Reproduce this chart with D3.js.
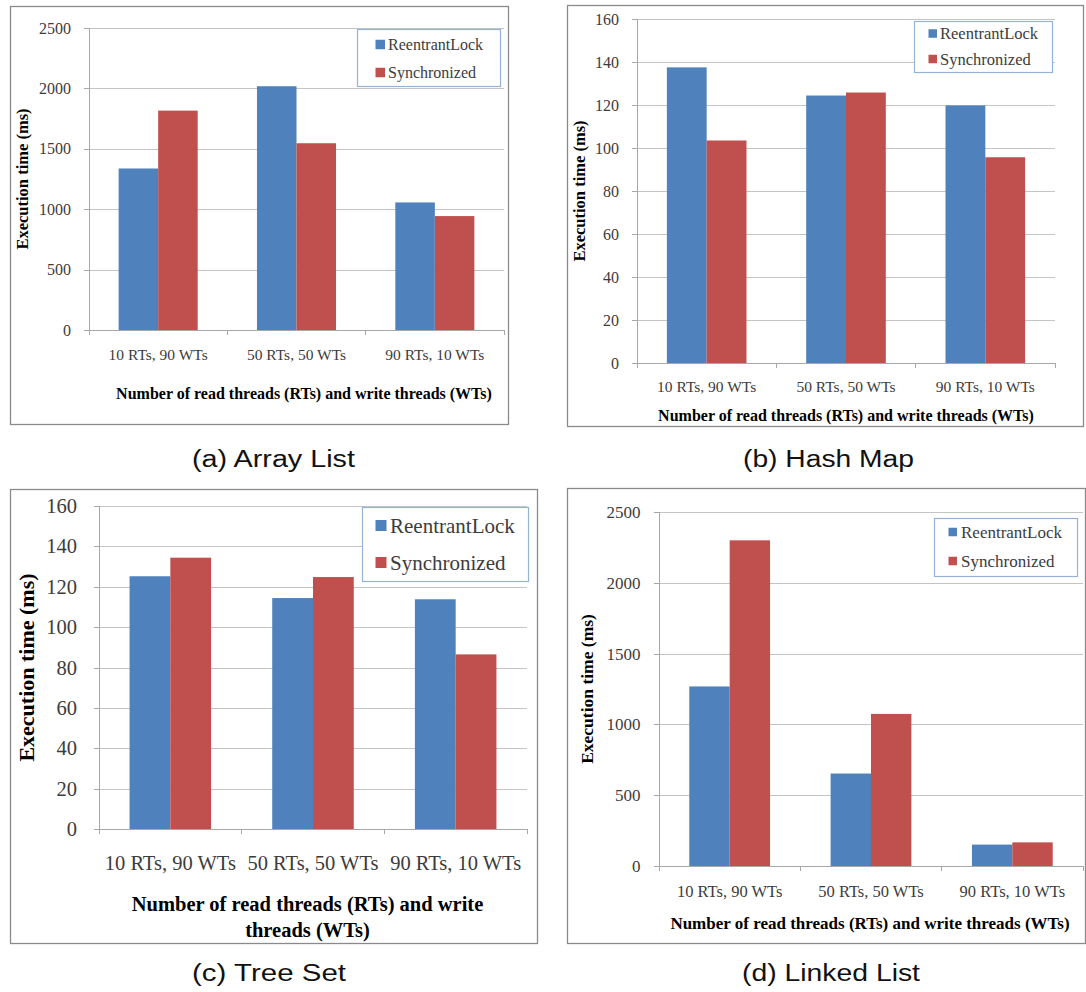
<!DOCTYPE html>
<html>
<head>
<meta charset="utf-8">
<script src="https://cdn.jsdelivr.net/npm/d3@7"></script>
<style>
  html, body { margin: 0; padding: 0; background: #ffffff; }
  svg { display: block; }
</style>
</head>
<body>
<svg id="chart" width="1086" height="992"></svg>
<script>
// ---------------- DATA ----------------
const categories = ["10 RTs, 90 WTs", "50 RTs, 50 WTs", "90 RTs, 10 WTs"];
const seriesNames = ["ReentrantLock", "Synchronized"];

const arrayListReentrant = [1337, 2018, 1056];
const arrayListSync      = [1816, 1546, 943];

const hashMapReentrant = [137.5, 124.4, 119.8];
const hashMapSync      = [103.5, 125.8, 95.7];

const treeSetReentrant = [125.2, 114.4, 113.8];
const treeSetSync      = [134.4, 124.8, 86.5];

const linkedListReentrant = [1268, 653, 151];
const linkedListSync      = [2300, 1074, 167];

const ticksMs2500 = [0, 500, 1000, 1500, 2000, 2500];
const ticksMs160  = [0, 20, 40, 60, 80, 100, 120, 140, 160];

const yTitle = "Execution time (ms)";
const xTitle = "Number of read threads (RTs) and write threads (WTs)";
const xTitleLines = ["Number of read threads (RTs) and write", "threads (WTs)"];
const captions = ["(a) Array List", "(b) Hash Map", "(c) Tree Set", "(d) Linked List"];

// ---------------- STYLE ----------------
const colors = ["#4f81bd", "#c0504d"];
const serif = "'Liberation Serif', 'Times New Roman', serif";
const sans = "'Liberation Sans', Arial, sans-serif";

// ---------------- LAYOUT ----------------
const panels = [
  { series: [arrayListReentrant, arrayListSync], ticks: ticksMs2500,
    frame: [10, 6, 508, 424], plot: [89, 504, 28, 330],
    tickFont: 16, tickGap: 18, catY: 355, catFont: 15.5,
    xTitle: [xTitle], xTitleX: 304, xTitleY: [393], xTitleFont: 16,
    yTitleX: 22.5, yTitleY: 179, yTitleFont: 16.5,
    legend: { box: [357, 29, 500, 86], sq: 9.5, sqX: 375.5, textX: 388, rows: [44.5, 72.5], font: 16 },
    caption: { text: captions[0], x: 273.5, y: 467, len: 163 } },
  { series: [hashMapReentrant, hashMapSync], ticks: ticksMs160,
    frame: [567, 5, 1083, 426], plot: [637, 1055, 19, 363],
    tickFont: 16, tickGap: 18, catY: 386.5, catFont: 15.5,
    xTitle: [xTitle], xTitleX: 846, xTitleY: [415], xTitleFont: 16,
    yTitleX: 579.5, yTitleY: 191, yTitleFont: 16.5,
    legend: { box: [914, 21, 1052, 72], sq: 8.5, sqX: 928.5, textX: 940, rows: [33.5, 59], font: 16.5 },
    caption: { text: captions[1], x: 828.5, y: 467, len: 171 } },
  { series: [treeSetReentrant, treeSetSync], ticks: ticksMs160,
    frame: [10, 489, 537, 943], plot: [99, 527, 506, 829],
    tickFont: 20.5, tickGap: 22, catY: 863, catFont: 20.5,
    xTitle: xTitleLines, xTitleX: 307.5, xTitleY: [903.5, 929.5], xTitleFont: 20.5,
    yTitleX: 26, yTitleY: 667.5, yTitleFont: 22,
    legend: { box: [362, 507, 528, 581], sq: 11, sqX: 375.5, textX: 390, rows: [525.5, 562.5], font: 21 },
    caption: { text: captions[2], x: 269, y: 981, len: 154 } },
  { series: [linkedListReentrant, linkedListSync], ticks: ticksMs2500,
    frame: [567, 488, 1085, 943], plot: [659, 1083, 512, 866],
    tickFont: 17, tickGap: 18.5, catY: 891, catFont: 16.5,
    xTitle: [xTitle], xTitleX: 870, xTitleY: [923.5], xTitleFont: 17,
    yTitleX: 587, yTitleY: 689, yTitleFont: 17.5,
    legend: { box: [934, 518, 1077, 576], sq: 8.5, sqX: 948.5, textX: 961, rows: [532, 561], font: 17 },
    caption: { text: captions[3], x: 831, y: 981, len: 178 } }
];

const svg = d3.select("#chart");

function drawPanel(cfg) {
  const g = svg.append("g");
  const [fx0, fy0, fx1, fy1] = cfg.frame;
  const [px0, px1, pyTop, pyZero] = cfg.plot;
  const yMax = d3.max(cfg.ticks);

  // frame
  g.append("rect")
    .attr("x", fx0 + 0.5).attr("y", fy0 + 0.5)
    .attr("width", fx1 - fx0).attr("height", fy1 - fy0)
    .attr("fill", "#fff").attr("stroke", "#8a8a8a").attr("stroke-width", 1.3);

  const y = d3.scaleLinear().domain([0, yMax]).range([pyZero, pyTop]);
  const gapRatio = 1.5 / 3.5;
  const x = d3.scaleBand().domain(categories).range([px0, px1])
    .paddingInner(gapRatio).paddingOuter(gapRatio / 2);
  const xs = d3.scaleBand().domain(seriesNames).range([0, x.bandwidth()]);

  // gridlines
  const grid = g.append("g").attr("transform", `translate(${px0},0)`)
    .call(d3.axisLeft(y).tickValues(cfg.ticks).tickSize(-(px1 - px0)).tickFormat(""));
  grid.select(".domain").remove();
  grid.selectAll(".tick line").attr("stroke", "#c4c4c4").attr("stroke-width", 1)
    .attr("shape-rendering", "crispEdges");

  // bars
  cfg.series.forEach((vals, si) => {
    g.append("g").selectAll("rect").data(vals).join("rect")
      .attr("x", (d, i) => x(categories[i]) + xs(seriesNames[si]))
      .attr("width", xs.bandwidth())
      .attr("y", d => y(d))
      .attr("height", d => y(0) - y(d))
      .attr("fill", colors[si]);
  });

  // y axis
  const yAx = g.append("g").attr("transform", `translate(${px0},0)`)
    .call(d3.axisLeft(y).tickValues(cfg.ticks).tickSize(5).tickPadding(cfg.tickGap - 5)
      .tickFormat(d3.format("d")));
  yAx.select(".domain").attr("stroke", "#a8a8a8").attr("shape-rendering", "crispEdges");
  yAx.selectAll(".tick line").attr("stroke", "#a8a8a8").attr("shape-rendering", "crispEdges");
  yAx.selectAll(".tick text").attr("font-family", serif).attr("font-size", cfg.tickFont)
    .attr("fill", "#3c3c3c");

  // x axis baseline + boundary ticks
  const boundaries = categories.map(c => x(c) - x.step() * gapRatio / 2)
    .concat([x(categories[categories.length - 1]) + x.bandwidth() + x.step() * gapRatio / 2]);
  const xAx = g.append("g").attr("transform", `translate(0,${pyZero})`)
    .call(d3.axisBottom(x).tickSize(0).tickPadding(0).tickFormat(""));
  xAx.select(".domain").attr("stroke", "#a8a8a8").attr("shape-rendering", "crispEdges");
  g.append("g").selectAll("line").data(boundaries).join("line")
    .attr("x1", d => d).attr("x2", d => d)
    .attr("y1", pyZero).attr("y2", pyZero + 5)
    .attr("stroke", "#a8a8a8").attr("shape-rendering", "crispEdges");

  // category labels
  g.append("g").selectAll("text").data(categories).join("text")
    .attr("x", d => x(d) + x.bandwidth() / 2)
    .attr("y", cfg.catY).attr("dy", "0.35em")
    .attr("text-anchor", "middle")
    .attr("font-family", serif).attr("font-size", cfg.catFont).attr("fill", "#3c3c3c")
    .text(d => d);

  // x title
  g.append("g").selectAll("text").data(cfg.xTitle).join("text")
    .attr("x", cfg.xTitleX).attr("y", (d, i) => cfg.xTitleY[i]).attr("dy", "0.35em")
    .attr("text-anchor", "middle")
    .attr("font-family", serif).attr("font-weight", "bold")
    .attr("font-size", cfg.xTitleFont).attr("fill", "#000")
    .text(d => d);

  // y title
  g.append("text")
    .attr("transform", `translate(${cfg.yTitleX},${cfg.yTitleY}) rotate(-90)`)
    .attr("dy", "0.35em").attr("text-anchor", "middle")
    .attr("font-family", serif).attr("font-weight", "bold")
    .attr("font-size", cfg.yTitleFont).attr("fill", "#000")
    .text(yTitle);

  // legend
  const L = cfg.legend;
  g.append("rect")
    .attr("x", L.box[0] + 0.5).attr("y", L.box[1] + 0.5)
    .attr("width", L.box[2] - L.box[0]).attr("height", L.box[3] - L.box[1])
    .attr("fill", "#fff").attr("stroke", "#95b3d7").attr("stroke-width", 1.2);
  const items = g.append("g").selectAll("g").data(seriesNames).join("g");
  items.append("rect")
    .attr("x", L.sqX).attr("y", (d, i) => L.rows[i] - L.sq / 2)
    .attr("width", L.sq).attr("height", L.sq)
    .attr("fill", (d, i) => colors[i]);
  items.append("text")
    .attr("x", L.textX).attr("y", (d, i) => L.rows[i]).attr("dy", "0.35em")
    .attr("font-family", serif).attr("font-size", L.font).attr("fill", "#3c3c3c")
    .text(d => d);

  // caption
  svg.append("text")
    .attr("x", cfg.caption.x).attr("y", cfg.caption.y)
    .attr("text-anchor", "middle")
    .attr("font-family", sans).attr("font-size", 23).attr("fill", "#111")
    .attr("textLength", cfg.caption.len).attr("lengthAdjust", "spacingAndGlyphs")
    .text(cfg.caption.text);
}

panels.forEach(drawPanel);
</script>
</body>
</html>
